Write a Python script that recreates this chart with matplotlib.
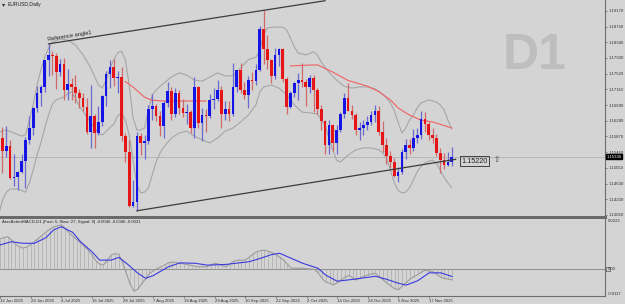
import matplotlib
matplotlib.use("Agg")
import matplotlib.pyplot as plt
import numpy as np
from matplotlib.patches import Rectangle

plt.rcParams["font.family"] = ["Liberation Sans", "DejaVu Sans"]

# EURUSD daily candles, 12 Jun 2025 .. 25 Nov 2025 (bar index = position on chart)
opens = [1.1487, 1.1584, 1.1550, 1.1562, 1.1478, 1.1480, 1.1494, 1.1523, 1.1577, 1.1610,
         1.1663, 1.1700, 1.1718, 1.1787, 1.1802, 1.1799, 1.1757, 1.1778, 1.1708, 1.1725,
         1.1718, 1.1701, 1.1689, 1.1664, 1.1598, 1.1640, 1.1597, 1.1626, 1.1692, 1.1752,
         1.1770, 1.1740, 1.1743, 1.1588, 1.1547, 1.1405, 1.1415, 1.1587, 1.1571, 1.1575,
         1.1660, 1.1667, 1.1642, 1.1615, 1.1676, 1.1706, 1.1647, 1.1700, 1.1662, 1.1648,
         1.1650, 1.1608, 1.1718, 1.1622, 1.1643, 1.1640, 1.1683, 1.1686, 1.1710, 1.1645,
         1.1659, 1.1646, 1.1717, 1.1761, 1.1708, 1.1696, 1.1734, 1.1732, 1.1761, 1.1868,
         1.1816, 1.1787, 1.1745, 1.1802, 1.1817, 1.1737, 1.1665, 1.1701, 1.1727, 1.1734,
         1.1729, 1.1716, 1.1741, 1.1710, 1.1658, 1.1628, 1.1564, 1.1618, 1.1569, 1.1605,
         1.1647, 1.1689, 1.1654, 1.1644, 1.1603, 1.1610, 1.1618, 1.1626, 1.1644, 1.1653,
         1.1600, 1.1564, 1.1535, 1.1520, 1.1482, 1.1493, 1.1547, 1.1564, 1.1557, 1.1583,
         1.1592, 1.1634, 1.1620, 1.1592, 1.1582, 1.1544, 1.1526, 1.1513, 1.1520]
highs = [1.1631, 1.1613, 1.1614, 1.1579, 1.1540, 1.1497, 1.1542, 1.1586, 1.1641, 1.1664,
         1.1720, 1.1723, 1.1788, 1.1830, 1.1812, 1.1805, 1.1791, 1.1794, 1.1764, 1.1741,
         1.1749, 1.1712, 1.1702, 1.1688, 1.1721, 1.1645, 1.1666, 1.1697, 1.1760, 1.1788,
         1.1789, 1.1760, 1.1770, 1.1597, 1.1578, 1.1472, 1.1599, 1.1596, 1.1592, 1.1670,
         1.1699, 1.1672, 1.1655, 1.1679, 1.1730, 1.1716, 1.1713, 1.1709, 1.1686, 1.1671,
         1.1657, 1.1742, 1.1720, 1.1661, 1.1660, 1.1699, 1.1714, 1.1736, 1.1719, 1.1681,
         1.1679, 1.1780, 1.1760, 1.1780, 1.1729, 1.1746, 1.1755, 1.1777, 1.1878, 1.1918,
         1.1852, 1.1791, 1.1819, 1.1819, 1.1819, 1.1744, 1.1706, 1.1730, 1.1754, 1.1779,
         1.1738, 1.1749, 1.1747, 1.1713, 1.1669, 1.1631, 1.1629, 1.1620, 1.1618, 1.1651,
         1.1702, 1.1728, 1.1670, 1.1648, 1.1625, 1.1629, 1.1640, 1.1654, 1.1669, 1.1667,
         1.1628, 1.1584, 1.1550, 1.1530, 1.1507, 1.1555, 1.1580, 1.1580, 1.1606, 1.1609,
         1.1655, 1.1650, 1.1625, 1.1608, 1.1594, 1.1558, 1.1544, 1.1545, 1.1560]
lows = [1.1471, 1.1490, 1.1534, 1.1475, 1.1458, 1.1447, 1.1490, 1.1451, 1.1566, 1.1590,
        1.1650, 1.1667, 1.1704, 1.1746, 1.1747, 1.1712, 1.1746, 1.1683, 1.1684, 1.1682,
        1.1676, 1.1661, 1.1654, 1.1593, 1.1556, 1.1557, 1.1590, 1.1615, 1.1668, 1.1713,
        1.1720, 1.1700, 1.1576, 1.1520, 1.1401, 1.1401, 1.1392, 1.1538, 1.1528, 1.1566,
        1.1630, 1.1627, 1.1589, 1.1583, 1.1664, 1.1629, 1.1638, 1.1646, 1.1637, 1.1621,
        1.1595, 1.1583, 1.1609, 1.1574, 1.1600, 1.1635, 1.1660, 1.1681, 1.1608, 1.1631,
        1.1627, 1.1642, 1.1703, 1.1700, 1.1686, 1.1662, 1.1708, 1.1723, 1.1758, 1.1778,
        1.1765, 1.1727, 1.1738, 1.1771, 1.1729, 1.1646, 1.1661, 1.1690, 1.1683, 1.1718,
        1.1666, 1.1702, 1.1650, 1.1646, 1.1605, 1.1541, 1.1542, 1.1550, 1.1542, 1.1599,
        1.1635, 1.1653, 1.1632, 1.1590, 1.1577, 1.1592, 1.1604, 1.1616, 1.1625, 1.1592,
        1.1547, 1.1514, 1.1504, 1.1481, 1.1468, 1.1489, 1.1527, 1.1540, 1.1550, 1.1571,
        1.1580, 1.1599, 1.1579, 1.1569, 1.1536, 1.1492, 1.1502, 1.1510, 1.1510]
closes = [1.1584, 1.1550, 1.1562, 1.1478, 1.1480, 1.1494, 1.1523, 1.1577, 1.1610, 1.1663,
          1.1700, 1.1718, 1.1787, 1.1802, 1.1799, 1.1757, 1.1778, 1.1708, 1.1725, 1.1718,
          1.1701, 1.1689, 1.1664, 1.1598, 1.1640, 1.1597, 1.1626, 1.1692, 1.1752, 1.1770,
          1.1740, 1.1743, 1.1588, 1.1547, 1.1405, 1.1415, 1.1587, 1.1571, 1.1575, 1.1660,
          1.1667, 1.1642, 1.1615, 1.1676, 1.1706, 1.1647, 1.1700, 1.1662, 1.1648, 1.1650,
          1.1608, 1.1718, 1.1622, 1.1643, 1.1640, 1.1683, 1.1686, 1.1710, 1.1645, 1.1659,
          1.1646, 1.1717, 1.1761, 1.1708, 1.1696, 1.1734, 1.1732, 1.1761, 1.1868, 1.1816,
          1.1787, 1.1745, 1.1802, 1.1817, 1.1737, 1.1665, 1.1701, 1.1727, 1.1734, 1.1729,
          1.1716, 1.1741, 1.1710, 1.1658, 1.1628, 1.1564, 1.1618, 1.1569, 1.1605, 1.1647,
          1.1689, 1.1654, 1.1644, 1.1603, 1.1610, 1.1618, 1.1626, 1.1644, 1.1653, 1.1600,
          1.1564, 1.1535, 1.1520, 1.1482, 1.1493, 1.1547, 1.1564, 1.1557, 1.1583, 1.1592,
          1.1634, 1.1620, 1.1592, 1.1582, 1.1544, 1.1526, 1.1513, 1.1520, 1.15336]

# bollinger-style envelope (at sample bars)
upper_idx = [0, 2, 4, 6, 7, 8, 9, 10, 11, 12, 13, 14, 16, 18, 20, 22, 24, 26, 27, 28, 29, 30, 31, 32,
             33, 34, 35, 36, 37, 38, 39, 40, 41, 43, 45, 47, 49, 51, 53, 55, 57, 59, 61, 63, 65, 67,
             68, 69, 70, 72, 74, 75, 76, 77, 78, 80, 82, 83, 84, 86, 88, 90, 92, 94, 96, 98, 100,
             101, 102, 103, 104, 105, 106, 107, 108, 109, 110, 112, 114, 115, 116, 117, 118]
upper_val = [1.1598, 1.1604, 1.1596, 1.1588, 1.1591, 1.1630, 1.1670, 1.1722, 1.1761, 1.1795, 1.1819,
             1.1835, 1.1843, 1.1840, 1.1827, 1.1801, 1.1767, 1.1722, 1.1714, 1.1735, 1.1767, 1.1788,
             1.1806, 1.1811, 1.1788, 1.1722, 1.1636, 1.1604, 1.1604, 1.1609, 1.1656, 1.1696, 1.1709,
             1.1727, 1.1743, 1.1754, 1.1748, 1.1735, 1.1732, 1.1743, 1.1754, 1.1746, 1.1746, 1.1767,
             1.1788, 1.1795, 1.1814, 1.1853, 1.1872, 1.1874, 1.1874, 1.1866, 1.1845, 1.1822, 1.1806,
             1.1801, 1.1809, 1.1801, 1.1782, 1.1756, 1.1735, 1.1719, 1.1714, 1.1717, 1.1717, 1.1712,
             1.1698, 1.1688, 1.1675, 1.1656, 1.1625, 1.1596, 1.1609, 1.1630, 1.1643, 1.1662, 1.1675,
             1.1683, 1.1677, 1.1670, 1.1656, 1.1630, 1.1607]
lower_idx = [0, 1, 2, 3, 5, 7, 8, 9, 10, 11, 12, 13, 14, 15, 17, 18, 19, 20, 21, 23, 25, 26, 27, 28,
             30, 31, 32, 33, 34, 35, 36, 37, 38, 39, 40, 41, 42, 43, 45, 47, 49, 51, 53, 55, 57, 59,
             61, 63, 65, 67, 68, 69, 71, 73, 75, 77, 79, 81, 83, 85, 86, 87, 88, 89, 91, 93, 95, 97,
             99, 100, 101, 102, 103, 104, 105, 106, 107, 108, 109, 110, 111, 112, 113, 114, 115, 116,
             117, 118]
lower_val = [1.1381, 1.1420, 1.1441, 1.1449, 1.1449, 1.1441, 1.1465, 1.1499, 1.1538, 1.1570, 1.1609,
             1.1643, 1.1672, 1.1683, 1.1691, 1.1699, 1.1704, 1.1688, 1.1667, 1.1638, 1.1609, 1.1596,
             1.1591, 1.1601, 1.1620, 1.1641, 1.1649, 1.1630, 1.1591, 1.1525, 1.1460, 1.1439, 1.1441,
             1.1452, 1.1486, 1.1520, 1.1543, 1.1559, 1.1583, 1.1596, 1.1601, 1.1588, 1.1578, 1.1570,
             1.1583, 1.1601, 1.1609, 1.1625, 1.1643, 1.1670, 1.1704, 1.1717, 1.1722, 1.1714, 1.1696,
             1.1670, 1.1651, 1.1649, 1.1646, 1.1617, 1.1583, 1.1552, 1.1525, 1.1520, 1.1538, 1.1552,
             1.1557, 1.1557, 1.1552, 1.1544, 1.1531, 1.1499, 1.1467, 1.1446, 1.1439, 1.1441, 1.1452,
             1.1473, 1.1494, 1.1509, 1.1517, 1.1522, 1.1525, 1.1517, 1.1499, 1.1480, 1.1465, 1.1452]

# red moving average (two visible stretches)
ma_idx = [33, 35, 38, 40, 43, 47, 51, 54, 65,
          76, 80, 83, 87, 91, 96, 99, 102, 104, 107, 110, 113, 116, 118]
ma_val = [1.1731, 1.1717, 1.1690, 1.1682, 1.1680, 1.1680, 1.1680, 1.1680, np.nan,
          1.1772, 1.1774, 1.1775, 1.1756, 1.1734, 1.1719, 1.1705, 1.1683, 1.1662, 1.1643,
          1.1630, 1.1625, 1.1616, 1.1609]

# MACD main (per bar, also drawn as histogram) and signal (sampled)
macd_main = [0.0135, 0.0140, 0.0144, 0.0130, 0.0112, 0.0100, 0.0094, 0.0098, 0.0109, 0.0122,
             0.0136, 0.0151, 0.0164, 0.0177, 0.0187, 0.0192, 0.0196, 0.0182, 0.0161, 0.0146,
             0.0132, 0.0118, 0.0102, 0.0085, 0.0065, 0.0038, 0.0024, 0.0020, 0.0040, 0.0063,
             0.0069, 0.0067, 0.0031, -0.0019, -0.0067, -0.0096, -0.0086, -0.0062, -0.0042, -0.0019,
             -0.0006, 0.0004, 0.0012, 0.0020, 0.0029, 0.0033, 0.0030, 0.0027, 0.0024, 0.0021,
             0.0017, 0.0014, 0.0012, 0.0012, 0.0012, 0.0019, 0.0027, 0.0024, 0.0017, 0.0012,
             0.0024, 0.0036, 0.0041, 0.0041, 0.0041, 0.0053, 0.0067, 0.0077, 0.0083, 0.0085,
             0.0080, 0.0074, 0.0065, 0.0054, 0.0042, 0.0023, 0.0005, 0.0005, 0.0005, 0.0005,
             0.0003, 0.0002, 0.0000, -0.0014, -0.0038, -0.0055, -0.0061, -0.0068, -0.0059, -0.0046,
             -0.0036, -0.0026, -0.0036, -0.0046, -0.0038, -0.0030, -0.0024, -0.0020, -0.0017, -0.0032,
             -0.0046, -0.0060, -0.0073, -0.0085, -0.0089, -0.0074, -0.0058, -0.0043, -0.0032, -0.0023,
             -0.0012, -0.0003, -0.0007, -0.0011, -0.0021, -0.0034, -0.0040, -0.0042, -0.0046]
signal_idx = [0, 3, 6, 9, 12, 14, 16, 19, 21, 24, 26, 29, 31, 33, 36, 38, 40, 44, 47, 51, 54, 59,
              65, 68, 71, 73, 76, 79, 83, 85, 88, 92, 95, 98, 101, 104, 106, 109, 112, 115, 118]
signal_val = [0.0108, 0.0122, 0.0115, 0.0115, 0.0140, 0.0174, 0.0188, 0.0163, 0.0122, 0.0078,
              0.0041, 0.0041, 0.0053, 0.0027, -0.0017, -0.0039, -0.0027, 0.0012, 0.0029, 0.0027,
              0.0019, 0.0022, 0.0034, 0.0049, 0.0066, 0.0071, 0.0049, 0.0027, 0.0005, -0.0025,
              -0.0052, -0.0044, -0.0037, -0.0030, -0.0044, -0.0061, -0.0069, -0.0050, -0.0015,
              -0.0015, -0.0031]

price_ticks = [1.19170, 1.18750, 1.18340, 1.17930, 1.17520, 1.17110, 1.16690, 1.16280,
               1.15870, 1.15460, 1.15050, 1.14630, 1.14220, 1.13810]
date_labels = ["12 Jun 2025", "24 Jun 2025", "4 Jul 2025", "16 Jul 2025", "28 Jul 2025",
               "7 Aug 2025", "19 Aug 2025", "29 Aug 2025", "10 Sep 2025", "22 Sep 2025",
               "2 Oct 2025", "14 Oct 2025", "24 Oct 2025", "5 Nov 2025", "17 Nov 2025"]
date_idx = [0, 8, 16, 24, 32, 40, 48, 56, 64, 72, 80, 88, 96, 104, 112]

last_price = 1.15336
ref_line = ([13, 85], [1.1830, 1.19432])
support_line = ([36, 119], [1.1392, 1.1527])
support_label = 1.15220

BG = "#d4d4d4"
BULL = "#1414e6"
BEAR = "#e61414"
AXC = "#6e6e6e"
TXT = "#303030"
SMALL = 3.1

fig = plt.figure(figsize=(6.25, 3.04), dpi=100, facecolor=BG)
ax = fig.add_axes([0, 1 - 217 / 304, 605 / 625, 217 / 304], facecolor=BG)
ax2 = fig.add_axes([0, 1 - 296 / 304, 605 / 625, 77 / 304], facecolor=BG)

x = np.arange(len(closes))
o = np.array(opens)
c = np.array(closes)
up = c >= o

# envelope and moving average behind the candles
ax.plot(upper_idx, upper_val, color="#a6a6a6", lw=0.8, zorder=1)
ax.plot(lower_idx, lower_val, color="#a6a6a6", lw=0.8, zorder=1)
ax.plot(ma_idx, ma_val, color="#f06060", lw=0.8, zorder=1)
ax.axhline(last_price, color="#b8b8b8", lw=0.7, zorder=0)

ax.vlines(x[up], np.array(lows)[up], np.array(highs)[up], color="#6a6ad0", lw=0.9, zorder=2)
ax.vlines(x[~up], np.array(lows)[~up], np.array(highs)[~up], color="#d06a6a", lw=0.9, zorder=2)
body_h = np.maximum(np.abs(c - o), 0.00012)
ax.bar(x[up], body_h[up], bottom=np.minimum(o, c)[up], width=0.7, color=BULL, zorder=3, lw=0)
ax.bar(x[~up], body_h[~up], bottom=np.minimum(o, c)[~up], width=0.7, color=BEAR, zorder=3, lw=0)

ax.plot(*ref_line, color="#3c3c3c", lw=0.9, zorder=4)
ax.plot(*support_line, color="#3c3c3c", lw=0.9, zorder=4)
ax.text(12.8, 1.1836, "Reference angle1", fontsize=4.1, rotation=9, color="#202020",
        ha="left", va="bottom", rotation_mode="anchor", zorder=5)
ax.text(120.6, support_label, "1.15220", fontsize=5.2, color="#202020", ha="left", va="center",
        bbox=dict(boxstyle="square,pad=0.2", facecolor="none", edgecolor="#404040", lw=0.7), zorder=5)
ax.text(128.9, support_label + 0.0002, "\u21e7", fontsize=5.5, color="#404040", ha="left", va="center")

ax.text(0.831, 0.742, "D1", transform=ax.transAxes, fontsize=36, fontweight="bold",
        color="#bebebe", ha="left", va="center", zorder=0)
ax.text(0.003, 0.99, "\u25be", transform=ax.transAxes, fontsize=4.5, color=TXT, va="top")
ax.text(0.013, 0.99, "EURUSD,Daily", transform=ax.transAxes, fontsize=3.6, color="#202020", va="top")

xl = (0.36, 157.9)
ax.set_xlim(*xl)
ax.set_ylim(1.13757, 1.19451)
ax.yaxis.tick_right()
ax.set_yticks(price_ticks)
ax.set_yticklabels([f"{p:.5f}" for p in price_ticks], fontsize=SMALL, color=TXT)
ax.tick_params(axis="y", length=1.5, width=0.6, color=AXC, pad=0.8)
ax.set_xticks([])
for s in ["top", "left"]:
    ax.spines[s].set_visible(False)
ax.spines["right"].set_color(AXC)
ax.spines["right"].set_linewidth(0.8)
ax.spines["bottom"].set_color("#6a6a6a")
ax.spines["bottom"].set_linewidth(2.2)
ax.text(1.002, last_price, f"{last_price:.5f}", transform=ax.get_yaxis_transform(), fontsize=SMALL,
        color="white", va="center", ha="left",
        bbox=dict(boxstyle="square,pad=0.15", facecolor="black", edgecolor="black"), zorder=6)

# MACD panel
ax2.vlines(x, 0, macd_main, color="#a9a9a9", lw=0.5, zorder=1)
ax2.plot(x, macd_main, color="#9c9c9c", lw=0.8, zorder=2)
ax2.plot(signal_idx, signal_val, color="#3a3ae0", lw=0.8, zorder=3)
ax2.axhline(0, color="#8c8c8c", lw=0.7, zorder=0)
ax2.set_xlim(*xl)
ax2.set_ylim(-0.0117, 0.0222)
ax2.text(0.004, 0.985, "AtasBetterMACD-D1 (Fast: 5, Slow: 27, Signal: 9) -0.0046 -0.0046 -0.0031",
         transform=ax2.transAxes, fontsize=SMALL, color="#202020", va="top")
ax2.set_yticks([])
ytr = ax2.get_yaxis_transform()
ax2.text(1.004, 0.0220, "0.0222", transform=ytr, fontsize=SMALL, color=TXT, va="top")
ax2.text(1.004, 0.0, "0.00", transform=ytr, fontsize=SMALL, color=TXT, va="center")
ax2.add_patch(Rectangle((1.002, -0.0009), 0.006, 0.0018, transform=ytr, fill=False,
                        edgecolor="#505050", lw=0.5, clip_on=False))
ax2.text(1.004, -0.0110, "-0.0117", transform=ytr, fontsize=SMALL, color=TXT, va="center")
ax2.set_xticks(date_idx)
ax2.set_xticklabels(date_labels, fontsize=SMALL, color=TXT, ha="left")
ax2.tick_params(axis="x", length=1.5, width=0.6, color=AXC, pad=0.8)
for s in ["top", "left"]:
    ax2.spines[s].set_visible(False)
for s in ["right", "bottom"]:
    ax2.spines[s].set_color(AXC)
    ax2.spines[s].set_linewidth(0.8)

fig.savefig("out.png", dpi=100, facecolor=BG)
